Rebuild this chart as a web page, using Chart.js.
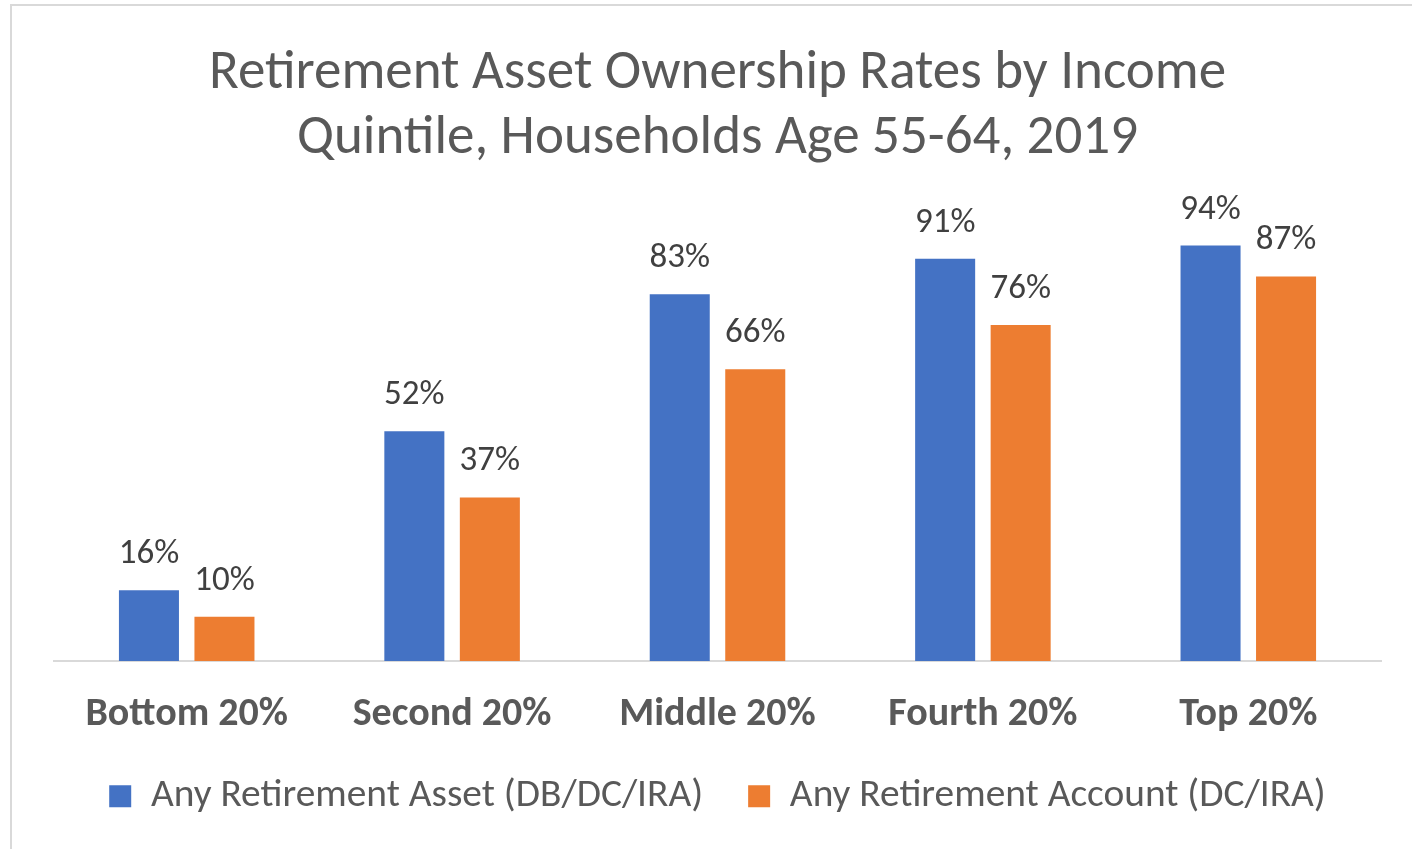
<!DOCTYPE html>
<html>
<head>
<meta charset="utf-8">
<script src="https://cdn.jsdelivr.net/npm/chart.js@4.4.1/dist/chart.umd.min.js"></script>
<style>
  html, body { margin: 0; padding: 0; background: #ffffff; overflow: hidden; }
  #wrap { position: relative; width: 1412px; height: 849px; }
  #frame { position: absolute; left: 10px; top: 4px; right: -10px; bottom: -10px;
           border-left: 2px solid #d9d9d9; border-top: 2px solid #d9d9d9; pointer-events: none; }
  canvas { position: absolute; left: 0; top: 0; }
</style>
</head>
<body>
<div id="wrap">
  <canvas id="c" width="1412" height="849"></canvas>
  <div id="frame"></div>
</div>
<script>
const categories = ["Bottom 20%", "Second 20%", "Middle 20%", "Fourth 20%", "Top 20%"];
const seriesNames = ["Any Retirement Asset (DB/DC/IRA)", "Any Retirement Account (DC/IRA)"];
const anyAsset = [16, 52, 83, 91, 94];
const anyAccount = [10, 37, 66, 76, 87];
const titleLines = ["Retirement Asset Ownership Rates by Income", "Quintile, Households Age 55-64, 2019"];

const FONT = "Carlito, Calibri, Lato, sans-serif";

const dataLabels = {
  id: 'dataLabels',
  afterDatasetsDraw(chart) {
    const ctx = chart.ctx;
    ctx.save();
    ctx.font = "35px " + FONT;
    ctx.fillStyle = "#404040";
    ctx.textAlign = "center";
    ctx.textBaseline = "alphabetic";
    chart.data.datasets.forEach((ds, di) => {
      const meta = chart.getDatasetMeta(di);
      meta.data.forEach((bar, i) => {
        ctx.fillText(ds.data[i] + "%", bar.x, bar.y - 27);
      });
    });
    ctx.restore();
  }
};

new Chart(document.getElementById('c'), {
  type: 'bar',
  data: {
    labels: categories,
    datasets: [
      { label: seriesNames[0], data: anyAsset, backgroundColor: '#4472C4' },
      { label: seriesNames[1], data: anyAccount, backgroundColor: '#ED7D31' }
    ]
  },
  options: {
    responsive: false,
    animation: false,
    devicePixelRatio: 1,
    layout: { padding: { top: 42, left: 54, right: 31, bottom: 23.1 } },
    datasets: { bar: { categoryPercentage: 0.569, barPercentage: 0.795 } },
    scales: {
      x: {
        grid: { display: false, drawTicks: false },
        border: { display: true, color: '#d9d9d9', width: 2 },
        ticks: { color: '#595959', font: { family: FONT, size: 40, weight: 'bold' }, padding: 30 },
        afterFit(scale) { scale.height = 70.5; }
      },
      y: { display: false, min: 0, max: 100 }
    },
    plugins: {
      title: {
        display: true,
        text: titleLines,
        color: '#595959',
        font: { family: FONT, size: 55, weight: 'normal', lineHeight: 65 / 55 },
        padding: { top: 0, bottom: 47 }
      },
      legend: {
        position: 'bottom',
        labels: {
          color: '#595959',
          font: { family: FONT, size: 39.4 },
          boxWidth: 22,
          boxHeight: 22,
          padding: 45
        }
      },
      tooltip: { enabled: false }
    }
  },
  plugins: [dataLabels]
});
</script>
</body>
</html>
